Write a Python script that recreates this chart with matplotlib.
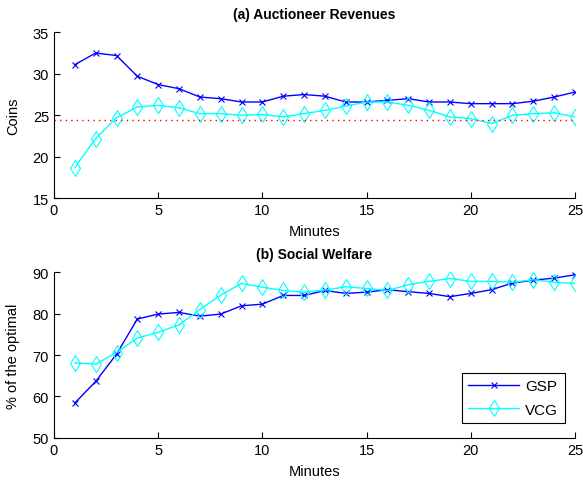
import matplotlib
matplotlib.use('Agg')
import matplotlib.pyplot as plt

plt.rcParams['font.family'] = ['Liberation Sans', 'DejaVu Sans']

minutes = list(range(1, 26))

# (a) auctioneer revenues, coins
gsp_rev = [31.1, 32.5, 32.2, 29.7, 28.7, 28.2, 27.2, 27.0, 26.6, 26.6,
           27.3, 27.5, 27.3, 26.6, 26.6, 26.8, 27.0, 26.6, 26.6, 26.4,
           26.4, 26.4, 26.7, 27.2, 27.8]
vcg_rev = [18.7, 22.2, 24.7, 26.0, 26.2, 25.9, 25.2, 25.2, 25.0, 25.1,
           24.8, 25.2, 25.6, 26.1, 26.6, 26.6, 26.2, 25.6, 24.8, 24.6,
           24.0, 25.0, 25.2, 25.3, 24.8]
ref_rev = 24.4

# (b) social welfare, % of the optimal
gsp_sw = [58.4, 63.6, 70.2, 78.7, 79.9, 80.3, 79.4, 79.9, 81.9, 82.3,
          84.4, 84.4, 85.6, 84.9, 85.2, 85.8, 85.3, 84.9, 84.1, 84.9,
          85.8, 87.4, 88.1, 88.6, 89.4]
vcg_sw = [68.1, 67.8, 70.6, 74.1, 75.5, 77.3, 81.0, 84.5, 87.3, 86.4,
          85.6, 85.2, 85.7, 86.5, 86.1, 85.6, 87.0, 87.8, 88.5, 87.8,
          87.8, 87.6, 88.2, 87.6, 87.3]

blue = '#0000ff'
cyan = '#00ffff'

fig = plt.figure(figsize=(5.83, 4.81), dpi=100)
ax1 = fig.add_axes([0.0926, 0.5857, 0.8937, 0.3451])
ax2 = fig.add_axes([0.0926, 0.0879, 0.8937, 0.3439])


def style(ax):
    for s in ['top', 'right']:
        ax.spines[s].set_visible(False)
    ax.tick_params(direction='in', labelsize=10.5, length=4)
    ax.set_xlim(0, 25)
    ax.set_xticks([0, 5, 10, 15, 20, 25])
    ax.set_xlabel('Minutes', fontsize=10.5, labelpad=5)


ax1.plot(minutes, gsp_rev, color=blue, lw=1, marker='x', ms=5, mew=0.8)
ax1.plot(minutes, vcg_rev, color=cyan, lw=1, marker='d', ms=8.5,
         mfc='none', mew=0.8)
ax1.axhline(ref_rev, color='red', lw=1, ls=(0, (1, 3)))
ax1.set_ylim(15, 35)
ax1.set_yticks([15, 20, 25, 30, 35])
ax1.set_ylabel('Coins', fontsize=10.5, labelpad=9)
ax1.set_title('(a) Auctioneer Revenues', fontsize=10, fontweight='bold', pad=10)
style(ax1)

ax2.plot(minutes, gsp_sw, color=blue, lw=1, marker='x', ms=5, mew=0.8, label='GSP')
ax2.plot(minutes, vcg_sw, color=cyan, lw=1, marker='d', ms=8.5,
         mfc='none', mew=0.8, label='VCG')
ax2.set_ylim(50, 90)
ax2.set_yticks([50, 60, 70, 80, 90])
ax2.set_ylabel('% of the optimal', fontsize=10.5, labelpad=9)
ax2.set_title('(b) Social Welfare', fontsize=10, fontweight='bold', pad=10)
style(ax2)
leg = ax2.legend(loc='lower right', bbox_to_anchor=(0.995, 0.04), fontsize=11,
                 fancybox=False, framealpha=1, edgecolor='black',
                 handlelength=3.3, borderpad=0.45, labelspacing=0.6,
                 handletextpad=0.4)
leg.get_frame().set_linewidth(0.8)

fig.savefig('out.png', dpi=100)
